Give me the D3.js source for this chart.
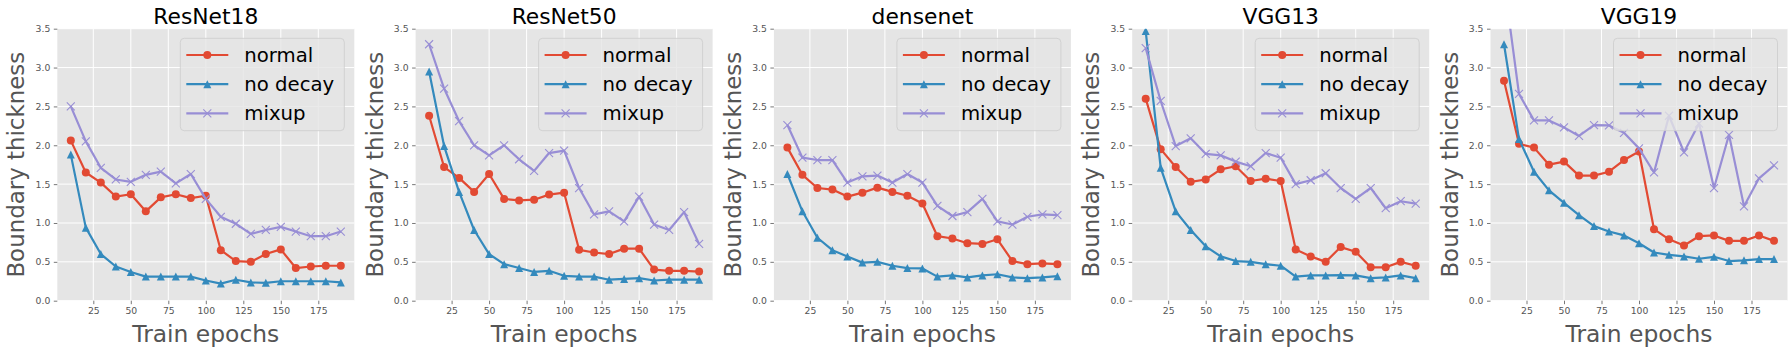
<!DOCTYPE html>
<html>
<head>
<meta charset="utf-8">
<script src="https://cdn.jsdelivr.net/npm/d3@7"></script>
<style>
  html, body { margin: 0; padding: 0; background: #ffffff; }
  svg { display: block; }
</style>
</head>
<body>
<svg id="chart" width="1792" height="352" font-family="DejaVu Sans"></svg>
<script>
// ---------------- data ----------------
const epochs = [10, 20, 30, 40, 50, 60, 70, 80, 90, 100, 110, 120, 130, 140, 150, 160, 170, 180, 190];
const models = ["ResNet18", "ResNet50", "densenet", "VGG13", "VGG19"];
const seriesNames = ["normal", "no decay", "mixup"];
const xTicks = [25, 50, 75, 100, 125, 150, 175];
const yTicks = [0.0, 0.5, 1.0, 1.5, 2.0, 2.5, 3.0, 3.5];

const resnet18Normal  = [2.06, 1.65, 1.52, 1.34, 1.37, 1.15, 1.33, 1.37, 1.32, 1.35, 0.65, 0.51, 0.50, 0.60, 0.66, 0.42, 0.44, 0.45, 0.45];
const resnet18NoDecay = [1.88, 0.94, 0.60, 0.44, 0.37, 0.31, 0.31, 0.31, 0.31, 0.26, 0.22, 0.27, 0.235, 0.23, 0.25, 0.25, 0.25, 0.25, 0.235];
const resnet18Mixup   = [2.50, 2.05, 1.71, 1.56, 1.53, 1.62, 1.66, 1.51, 1.63, 1.31, 1.08, 0.99, 0.86, 0.91, 0.95, 0.89, 0.83, 0.83, 0.89];

const resnet50Normal  = [2.38, 1.72, 1.58, 1.40, 1.63, 1.31, 1.29, 1.30, 1.365, 1.39, 0.655, 0.62, 0.60, 0.67, 0.67, 0.40, 0.385, 0.385, 0.375];
const resnet50NoDecay = [2.95, 1.99, 1.40, 0.91, 0.60, 0.47, 0.42, 0.37, 0.385, 0.32, 0.31, 0.31, 0.27, 0.28, 0.29, 0.26, 0.27, 0.27, 0.27];
const resnet50Mixup   = [3.30, 2.73, 2.31, 2.00, 1.87, 2.00, 1.82, 1.67, 1.90, 1.93, 1.45, 1.11, 1.15, 1.02, 1.34, 0.98, 0.91, 1.14, 0.73];

const densenetNormal  = [1.97, 1.62, 1.45, 1.43, 1.34, 1.39, 1.455, 1.40, 1.35, 1.25, 0.83, 0.80, 0.74, 0.73, 0.79, 0.51, 0.47, 0.48, 0.47];
const densenetNoDecay = [1.63, 1.15, 0.81, 0.65, 0.57, 0.49, 0.50, 0.45, 0.42, 0.415, 0.31, 0.325, 0.30, 0.325, 0.34, 0.30, 0.29, 0.30, 0.315];
const densenetMixup   = [2.26, 1.84, 1.81, 1.81, 1.52, 1.60, 1.61, 1.52, 1.63, 1.52, 1.22, 1.09, 1.14, 1.31, 1.02, 0.98, 1.08, 1.11, 1.10];

const vgg13Normal  = [2.60, 1.95, 1.72, 1.53, 1.56, 1.69, 1.73, 1.54, 1.57, 1.54, 0.66, 0.57, 0.50, 0.69, 0.63, 0.43, 0.43, 0.50, 0.45];
const vgg13NoDecay = [3.47, 1.71, 1.15, 0.91, 0.70, 0.57, 0.51, 0.50, 0.47, 0.45, 0.31, 0.325, 0.325, 0.33, 0.325, 0.29, 0.30, 0.325, 0.29];
const vgg13Mixup   = [3.25, 2.57, 1.99, 2.09, 1.89, 1.87, 1.79, 1.73, 1.90, 1.84, 1.50, 1.55, 1.64, 1.45, 1.31, 1.45, 1.19, 1.28, 1.25];

const vgg19Normal  = [2.83, 2.02, 1.97, 1.75, 1.79, 1.61, 1.61, 1.66, 1.81, 1.92, 0.92, 0.79, 0.71, 0.83, 0.84, 0.77, 0.77, 0.84, 0.77];
const vgg19NoDecay = [3.30, 2.08, 1.66, 1.42, 1.26, 1.10, 0.96, 0.89, 0.84, 0.74, 0.62, 0.59, 0.57, 0.54, 0.565, 0.51, 0.52, 0.535, 0.535];
const vgg19Mixup   = [4.11, 2.66, 2.32, 2.32, 2.23, 2.12, 2.26, 2.255, 2.16, 1.96, 1.65, 2.38, 1.91, 2.28, 1.45, 2.135, 1.215, 1.575, 1.74];

const panelData = [
  [resnet18Normal, resnet18NoDecay, resnet18Mixup],
  [resnet50Normal, resnet50NoDecay, resnet50Mixup],
  [densenetNormal, densenetNoDecay, densenetMixup],
  [vgg13Normal, vgg13NoDecay, vgg13Mixup],
  [vgg19Normal, vgg19NoDecay, vgg19Mixup]
];

// ---------------- style / layout ----------------
const FONT = "DejaVu Sans";
const colors = ["#E24A33", "#348ABD", "#988ED5"];
const markers = ["circle", "triangle", "x"];
const firstLeft = 57.3, panelStep = 358.3;
const plotW = 297, plotTop = 28.7, plotH = 272;

const svg = d3.select("#chart");

// measure the installed font once, then size text to the reference widths
function textWidth(str, size) {
  const t = svg.append("text").attr("font-family", FONT).attr("font-size", size).text(str);
  const w = t.node().getComputedTextLength();
  t.remove();
  return w;
}
const titleSize  = 100 * 105 / textWidth("ResNet18", 100);
const legendSize = 100 * 90 / textWidth("no decay", 100);
const xLabelSize = 100 * 147 / textWidth("Train epochs", 100);
const yLabelSize = 100 * 226 / textWidth("Boundary thickness", 100);
const tickSize   = 100 * 17.7 / textWidth("175", 100);

const x = d3.scaleLinear().domain([1, 199]).range([0, plotW]);
const y = d3.scaleLinear().domain([0, 3.5]).range([plotH, 0]);

function drawMarker(g, type, color) {
  const r = 4;
  if (type === "circle") {
    g.append("circle").attr("r", r).attr("fill", color);
  } else if (type === "triangle") {
    g.append("path").attr("d", `M0,${-r}L${r},${r}L${-r},${r}Z`).attr("fill", color);
  } else {
    g.append("path").attr("d", `M${-r},${-r}L${r},${r}M${-r},${r}L${r},${-r}`)
      .attr("stroke", color).attr("stroke-width", 1.1).attr("fill", "none");
  }
}

models.forEach((name, i) => {
  const left = firstLeft + i * panelStep;
  const g = svg.append("g").attr("transform", `translate(${left},${plotTop})`);

  g.append("rect").attr("width", plotW).attr("height", plotH).attr("fill", "#E5E5E5");

  const clipId = "clip" + i;
  g.append("clipPath").attr("id", clipId)
    .append("rect").attr("width", plotW).attr("height", plotH);

  // grid
  g.append("g").selectAll("line").data(xTicks).join("line")
    .attr("x1", d => x(d)).attr("x2", d => x(d)).attr("y1", 0).attr("y2", plotH)
    .attr("stroke", "#ffffff").attr("stroke-width", 1);
  g.append("g").selectAll("line").data(yTicks).join("line")
    .attr("y1", d => y(d)).attr("y2", d => y(d)).attr("x1", 0).attr("x2", plotW)
    .attr("stroke", "#ffffff").attr("stroke-width", 1);

  // axes
  const xAxis = g.append("g").attr("transform", `translate(0,${plotH})`)
    .call(d3.axisBottom(x).tickValues(xTicks).tickSize(3.5).tickPadding(3.5).tickFormat(d3.format("d")));
  const yAxis = g.append("g")
    .call(d3.axisLeft(y).tickValues(yTicks).tickSize(3.5).tickPadding(3.5).tickFormat(d3.format(".1f")));
  [xAxis, yAxis].forEach(a => {
    a.attr("font-family", FONT).attr("font-size", tickSize);
    a.select(".domain").remove();
    a.selectAll(".tick line").attr("stroke", "#555555").attr("stroke-width", 0.8);
    a.selectAll(".tick text").attr("fill", "#555555");
  });

  // series
  const plotG = g.append("g").attr("clip-path", `url(#${clipId})`);
  const line = d3.line().x((d, k) => x(epochs[k])).y(d => y(d));
  panelData[i].forEach((vals, s) => {
    plotG.append("path").datum(vals).attr("d", line)
      .attr("fill", "none").attr("stroke", colors[s]).attr("stroke-width", 2.2)
      .attr("stroke-linejoin", "round");
    vals.forEach((v, k) => {
      const mg = plotG.append("g").attr("transform", `translate(${x(epochs[k])},${y(v)})`);
      drawMarker(mg, markers[s], colors[s]);
    });
  });

  // legend
  const lw = 164, lh = 92.4;
  const lg = g.append("g").attr("transform", `translate(${plotW - 10 - lw},9.6)`);
  lg.append("rect").attr("width", lw).attr("height", lh).attr("rx", 4)
    .attr("fill", "#E5E5E5").attr("fill-opacity", 0.8)
    .attr("stroke", "#cccccc").attr("stroke-opacity", 0.8).attr("stroke-width", 1);
  seriesNames.forEach((sn, s) => {
    const ry = 16.7 + s * 29.2;
    lg.append("line").attr("x1", 6).attr("x2", 48).attr("y1", ry).attr("y2", ry)
      .attr("stroke", colors[s]).attr("stroke-width", 2.2);
    const mg = lg.append("g").attr("transform", `translate(27,${ry})`);
    drawMarker(mg, markers[s], colors[s]);
    lg.append("text").attr("x", 64).attr("y", ry + 7).text(sn)
      .attr("font-family", FONT).attr("font-size", legendSize)
      .attr("fill", "#000000");
  });

  // title and labels
  g.append("text").attr("x", plotW / 2).attr("y", -4.7).attr("text-anchor", "middle")
    .attr("font-family", FONT).attr("font-size", titleSize)
    .attr("fill", "#000000").text(name);
  g.append("text").attr("x", plotW / 2).attr("y", 313).attr("text-anchor", "middle")
    .attr("font-family", FONT).attr("font-size", xLabelSize)
    .attr("fill", "#555555").text("Train epochs");
  g.append("text").attr("transform", `translate(-33,${plotH / 2}) rotate(-90)`)
    .attr("text-anchor", "middle")
    .attr("font-family", FONT).attr("font-size", yLabelSize)
    .attr("fill", "#555555").text("Boundary thickness");
});
</script>
</body>
</html>
